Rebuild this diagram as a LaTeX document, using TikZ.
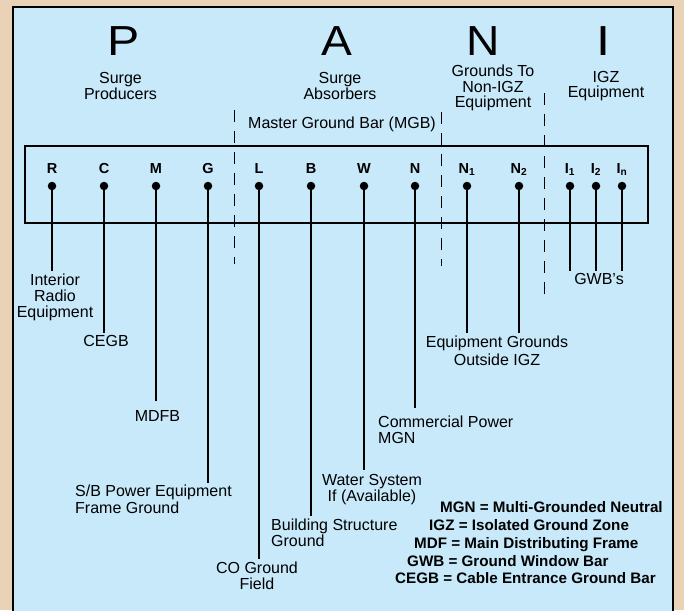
\documentclass[tikz,border=0pt]{standalone}
\usepackage{fontspec}
\setmainfont{Liberation Sans}
\usepackage{tikz}
\usetikzlibrary{positioning, calc}

\definecolor{panelblue}{RGB}{199,233,250}
\definecolor{framebeige}{RGB}{234,210,182}

\tikzset{
  bigletter/.style={inner sep=0pt, anchor=base,
                    font=\fontsize{42}{42}\selectfont},
  heading/.style={inner sep=0pt, align=center,
                  font=\fontsize{16}{13}\selectfont},
  term/.style={inner sep=0pt, anchor=base,
               font=\fontsize{14.5}{14.5}\selectfont\bfseries},
  dot/.style={circle, fill=black, inner sep=0pt, minimum size=8.5pt},
  lead/.style={line width=1.8pt, shorten >=3pt},
  boldlead/.style={lead, line width=2.5pt},
  lbl/.style={inner sep=0pt, anchor=north, align=center,
              font=\fontsize{16}{16}\selectfont},
  lblL/.style={lbl, anchor=north west, align=left},
  zone/.style={line width=0.9pt, dash pattern=on 12pt off 9pt},
  abbr/.style={inner sep=0pt, anchor=base west,
               font=\fontsize{15.2}{15}\selectfont\bfseries},
}

\begin{document}
\begin{tikzpicture}[x=1pt, y=-1pt]

  \useasboundingbox (0,0) rectangle (684,610);

  % frame and panel
  \fill[framebeige] (0,0) rectangle (684,610);
  \fill[panelblue] (13,7) rectangle (673,612);
  \draw[line width=2.5pt] (13,612) -- (13,7) -- (673,7) -- (673,612);

  % P A N I headings
  \node[bigletter] (bP) at (123.5,56) {\scalebox{1.15}[1]{P}};
  \node[bigletter] (bA) at (337,56) {\scalebox{1.1}[1]{A}};
  \node[bigletter] (bN) at (483,56) {\scalebox{1.1}[1]{N}};
  \node[bigletter] (bI) at (603,56) {\scalebox{1.2}[1]{I}};

  \node[heading, below=16pt of bP, xshift=-3pt] (hP) {Surge\\Producers};
  \node[heading, below=16pt of bA, xshift=3pt] (hA) {Surge\\Absorbers};
  \node[heading, below=9pt of bN, xshift=10pt,
        font=\fontsize{16}{15.5}\selectfont] (hN) {Grounds To\\Non-IGZ\\Equipment};
  \node[heading, below=15pt of bI, xshift=3pt,
        font=\fontsize{16}{14.5}\selectfont] (hI) {IGZ\\Equipment};

  \node[lbl] (hMGB) at (342,116.5) {Master Ground Bar (MGB)};

  % zone separators
  \draw[zone] (234,110) -- (234,264);
  \draw[zone] (441,112) -- (441,266);
  \draw[zone] (544,93) -- (544,297);

  % the bar
  \draw[line width=1.8pt] (25,146) rectangle (648,223);

  \foreach \n/\x/\t in {R/52/R, C/104/C, M/156/M, G/208/G, L/259/L,
                        B/311/B, W/364/W, N/415/N,
                        Na/467/{N\textsubscript{1}}, Nb/519/{N\textsubscript{2}},
                        Ia/570/{I\textsubscript{1}}, Ib/596/{I\textsubscript{2}},
                        In/622/{I\textsubscript{n}}} {
    \node[term] (t\n) at (\x,173) {\t};
    \node[dot] (d\n) at (\x,186) {};
  }

  % what each terminal goes to
  \node[lbl] (lR) at (55,273.5) {Interior\\Radio\\Equipment};
  \node[lbl] (lC) at (106,335.5) {CEGB};
  \node[lbl] (lM) at (157.5,410.5) {MDFB};
  \node[lblL, font=\fontsize{16}{17}\selectfont] (lG) at (75,484.5)
    {S/B Power Equipment\\Frame Ground};
  \node[lbl] (lL) at (257,561.5) {CO Ground\\Field};
  \node[lblL] (lB) at (271,518.5) {Building Structure\\Ground};
  \node[lbl] (lW) at (372,474.5) {Water System\\If (Available)};
  \node[lblL] (lN) at (378,415.5) {Commercial Power\\MGN};
  \node[lbl, font=\fontsize{16}{18}\selectfont] (lNN) at (497,335.5)
    {Equipment Grounds\\Outside IGZ};
  \node[lbl] (lGWB) at (599,273.5) {GWB's};

  \draw[lead] (dR) -- (dR |- lR.north);
  \draw[lead] (dC) -- (dC |- lC.north);
  \draw[lead, shorten >=10pt] (dM) -- (dM |- lM.north);
  \draw[boldlead, shorten >=1.5pt] (dG) -- (dG |- lG.north);
  \draw[boldlead] (dL) -- (dL |- lL.north);
  \draw[lead] (dB) -- (dB |- lB.north);
  \draw[lead, shorten >=4.5pt] (dW) -- (dW |- lW.north);
  \draw[lead, shorten >=7.5pt] (dN) -- (dN |- lN.north);
  \draw[boldlead] (dNa) -- (dNa |- lNN.north);
  \draw[boldlead] (dNb) -- (dNb |- lNN.north);
  \draw[boldlead] (dIa) -- (dIa |- lGWB.north);
  \draw[lead] (dIb) -- (dIb |- lGWB.north);
  \draw[lead] (dIn) -- (dIn |- lGWB.north);

  % legend
  \node[abbr] (kMGN) at (440,512) {MGN = Multi-Grounded Neutral};
  \node[abbr] (kIGZ) at (429,530) {IGZ = Isolated Ground Zone};
  \node[abbr] (kMDF) at (414,548) {MDF = Main Distributing Frame};
  \node[abbr] (kGWB) at (407,566) {GWB = Ground Window Bar};
  \node[abbr] (kCEGB) at (395,583) {CEGB = Cable Entrance Ground Bar};

\end{tikzpicture}
\end{document}
